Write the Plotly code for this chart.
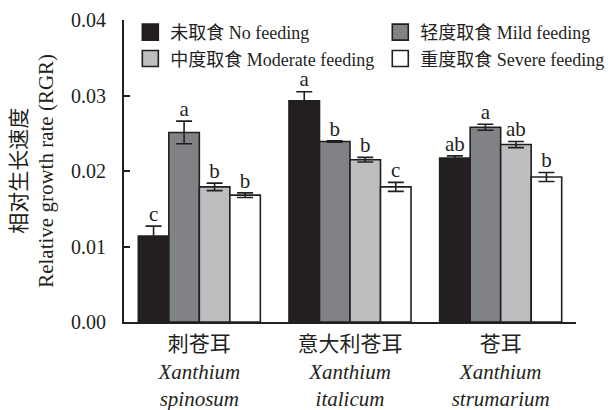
import plotly.graph_objects as go

# Relative growth rate of three Xanthium species under four feeding intensities
species = ["刺苍耳<br><i>Xanthium</i><br><i>spinosum</i>",
           "意大利苍耳<br><i>Xanthium</i><br><i>italicum</i>",
           "苍耳<br><i>Xanthium</i><br><i>strumarium</i>"]
species_keys = ["spinosum", "italicum", "strumarium"]

treatments = ["未取食 No feeding", "轻度取食 Mild feeding",
              "中度取食 Moderate feeding", "重度取食 Severe feeding"]

rgr_none = [0.0114, 0.0293, 0.0217]
rgr_mild = [0.0251, 0.0239, 0.0258]
rgr_moderate = [0.0179, 0.0215, 0.0235]
rgr_severe = [0.0168, 0.0179, 0.0192]

se_none = [0.0013, 0.0012, 0.0003]
se_mild = [0.0015, 0.0001, 0.0004]
se_moderate = [0.0005, 0.0003, 0.0004]
se_severe = [0.0003, 0.0006, 0.0006]

letters_none = ["c", "a", "ab"]
letters_mild = ["a", "b", "a"]
letters_moderate = ["b", "b", "ab"]
letters_severe = ["b", "c", "b"]

means = [rgr_none, rgr_mild, rgr_moderate, rgr_severe]
errors = [se_none, se_mild, se_moderate, se_severe]
letters = [letters_none, letters_mild, letters_moderate, letters_severe]

fills = ["#231f20", "#808285", "#bcbec0", "#ffffff"]
ink = "#231f20"
font_family = "Liberation Serif, Times New Roman, Noto Sans CJK SC, serif"
# two legend columns
legend_ids = ["legend", "legend2", "legend", "legend2"]

fig = go.Figure()

for i in range(4):
    fig.add_trace(go.Bar(
        x=species_keys, y=means[i], name=treatments[i],
        marker=dict(color=fills[i], line=dict(color=ink, width=1.6)),
        error_y=dict(type="data", array=errors[i], visible=True,
                     color=ink, thickness=1.6, width=8),
        offsetgroup=str(i), showlegend=False,
    ))

for i in range(4):
    tops = [m + e for m, e in zip(means[i], errors[i])]
    fig.add_trace(go.Scatter(
        x=species_keys, y=tops, mode="text", text=letters[i],
        textposition="top center",
        textfont=dict(size=21, color=ink, family=font_family),
        offsetgroup=str(i), showlegend=False, hoverinfo="skip",
    ))

for i in range(4):
    fig.add_trace(go.Scatter(
        x=[None], y=[None], mode="markers", name=treatments[i],
        marker=dict(symbol="square", size=16, color=fills[i],
                    line=dict(color=ink, width=1.6)),
        offsetgroup=str(i), legend=legend_ids[i],
    ))

legend_style = dict(font=dict(size=18, color=ink, family=font_family),
                    bgcolor="rgba(0,0,0,0)", orientation="v",
                    yanchor="top", xanchor="left", y=1.02,
                    itemclick=False, itemdoubleclick=False)

fig.update_layout(
    width=608, height=410,
    margin=dict(l=124, r=32, t=20, b=88, autoexpand=False),
    paper_bgcolor="white", plot_bgcolor="white",
    font=dict(family=font_family, color=ink, size=20),
    barmode="group", bargap=0.19, bargroupgap=0,
    scattermode="group", scattergap=0.19,
    showlegend=True,
    legend=dict(x=0.014, **legend_style),
    legend2=dict(x=0.567, **legend_style),
    xaxis=dict(
        type="category", categoryorder="array", categoryarray=species_keys,
        tickvals=species_keys, ticktext=species, automargin=False,
        showline=True, linecolor=ink, linewidth=2, ticks="",
        tickfont=dict(size=21, color=ink, family=font_family),
        ticklabelstandoff=2,
        range=[-0.5, 2.5], fixedrange=True, showgrid=False, zeroline=False,
    ),
    yaxis=dict(
        range=[0, 0.04], dtick=0.01, tickformat=".2f", automargin=False,
        showline=True, linecolor=ink, linewidth=2,
        ticks="inside", ticklen=6, tickwidth=1.6, tickcolor=ink,
        tickfont=dict(size=20, color=ink, family=font_family),
        ticklabelstandoff=12,
        showgrid=False, zeroline=False, fixedrange=True,
    ),
    annotations=[dict(
        text="相对生长速度<br>Relative growth rate (RGR)",
        xref="paper", yref="paper", x=-0.204, y=0.5,
        xanchor="center", yanchor="middle", textangle=-90,
        showarrow=False, font=dict(size=21, color=ink, family=font_family),
    )],
)

fig.write_html("out.html")
